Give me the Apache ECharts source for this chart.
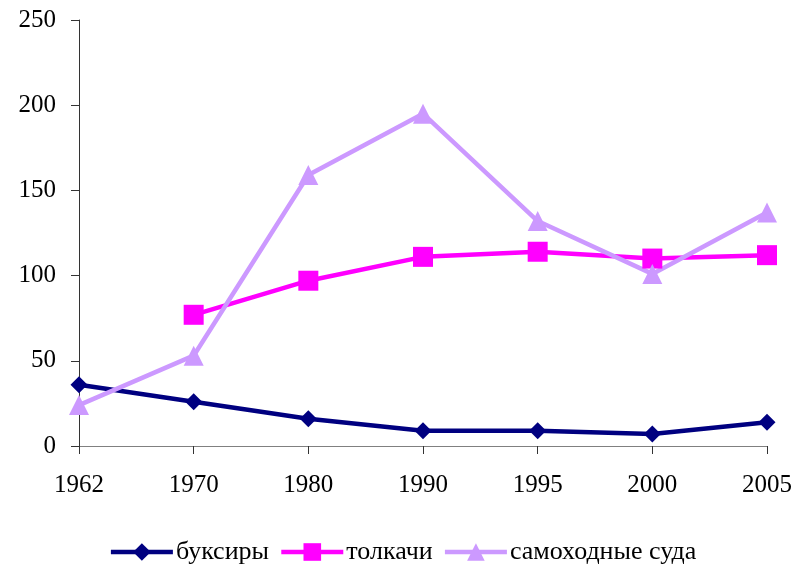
<!DOCTYPE html>
<html>
<head>
<meta charset="utf-8">
<script src="https://cdn.jsdelivr.net/npm/echarts@6/dist/echarts.min.js"></script>
<style>
  html, body { margin: 0; padding: 0; background: #fff; }
  #chart { width: 805px; height: 568px; }
</style>
</head>
<body>
<div id="chart"></div>
<script>
// годы
const years = ['1962', '1970', '1980', '1990', '1995', '2000', '2005'];
// значения по сериям
const buksiry = [36, 26, 16, 9, 9, 7, 14];
const tolkachi = [null, 77, 97, 111, 114, 110, 112];
const samohodnye = [24, 53, 159, 195, 132, 101, 137];

const font = '"Liberation Serif", "Times New Roman", serif';

const chart = echarts.init(document.getElementById('chart'));

function makeSeries(name, data, color, symbol, size) {
  return {
    name: name,
    type: 'line',
    data: data,
    symbol: symbol,
    symbolSize: size,
    showAllSymbol: true,
    connectNulls: false,
    lineStyle: { color: color, width: 4.5 },
    itemStyle: { color: color },
    emphasis: { disabled: true }
  };
}

chart.setOption({
  animation: false,
  textStyle: { fontFamily: font },
  grid: { left: 79, right: 38, top: 20, bottom: 122 },
  legend: {
    bottom: -2,
    left: 'center',
    itemWidth: 62,
    itemHeight: 22,
    itemGap: 10,
    lineStyle: { width: 4.5 },
    textStyle: { fontFamily: font, fontSize: 26, color: '#000', padding: [0, 0, 0, -2] },
    data: ['буксиры', 'толкачи', 'самоходные суда']
  },
  xAxis: {
    type: 'category',
    data: years,
    boundaryGap: false,
    axisLine: { lineStyle: { color: '#808080', width: 1 } },
    axisTick: { alignWithLabel: true, length: 8, lineStyle: { color: '#333' } },
    axisLabel: { fontFamily: font, fontSize: 25, color: '#000', margin: 27 },
    splitLine: { show: false }
  },
  yAxis: {
    type: 'value',
    min: 0,
    max: 250,
    interval: 50,
    axisLine: { show: true, lineStyle: { color: '#333', width: 1 } },
    axisTick: { show: true, length: 8, lineStyle: { color: '#333' } },
    axisLabel: { fontFamily: font, fontSize: 25, color: '#000', margin: 23 },
    splitLine: { show: false }
  },
  series: [
    makeSeries('буксиры', buksiry, '#000080', 'diamond', 17),
    makeSeries('толкачи', tolkachi, '#FF00FF', 'rect', 20),
    makeSeries('самоходные суда', samohodnye, '#CC99FF', 'triangle', 20)
  ]
});
</script>
</body>
</html>
